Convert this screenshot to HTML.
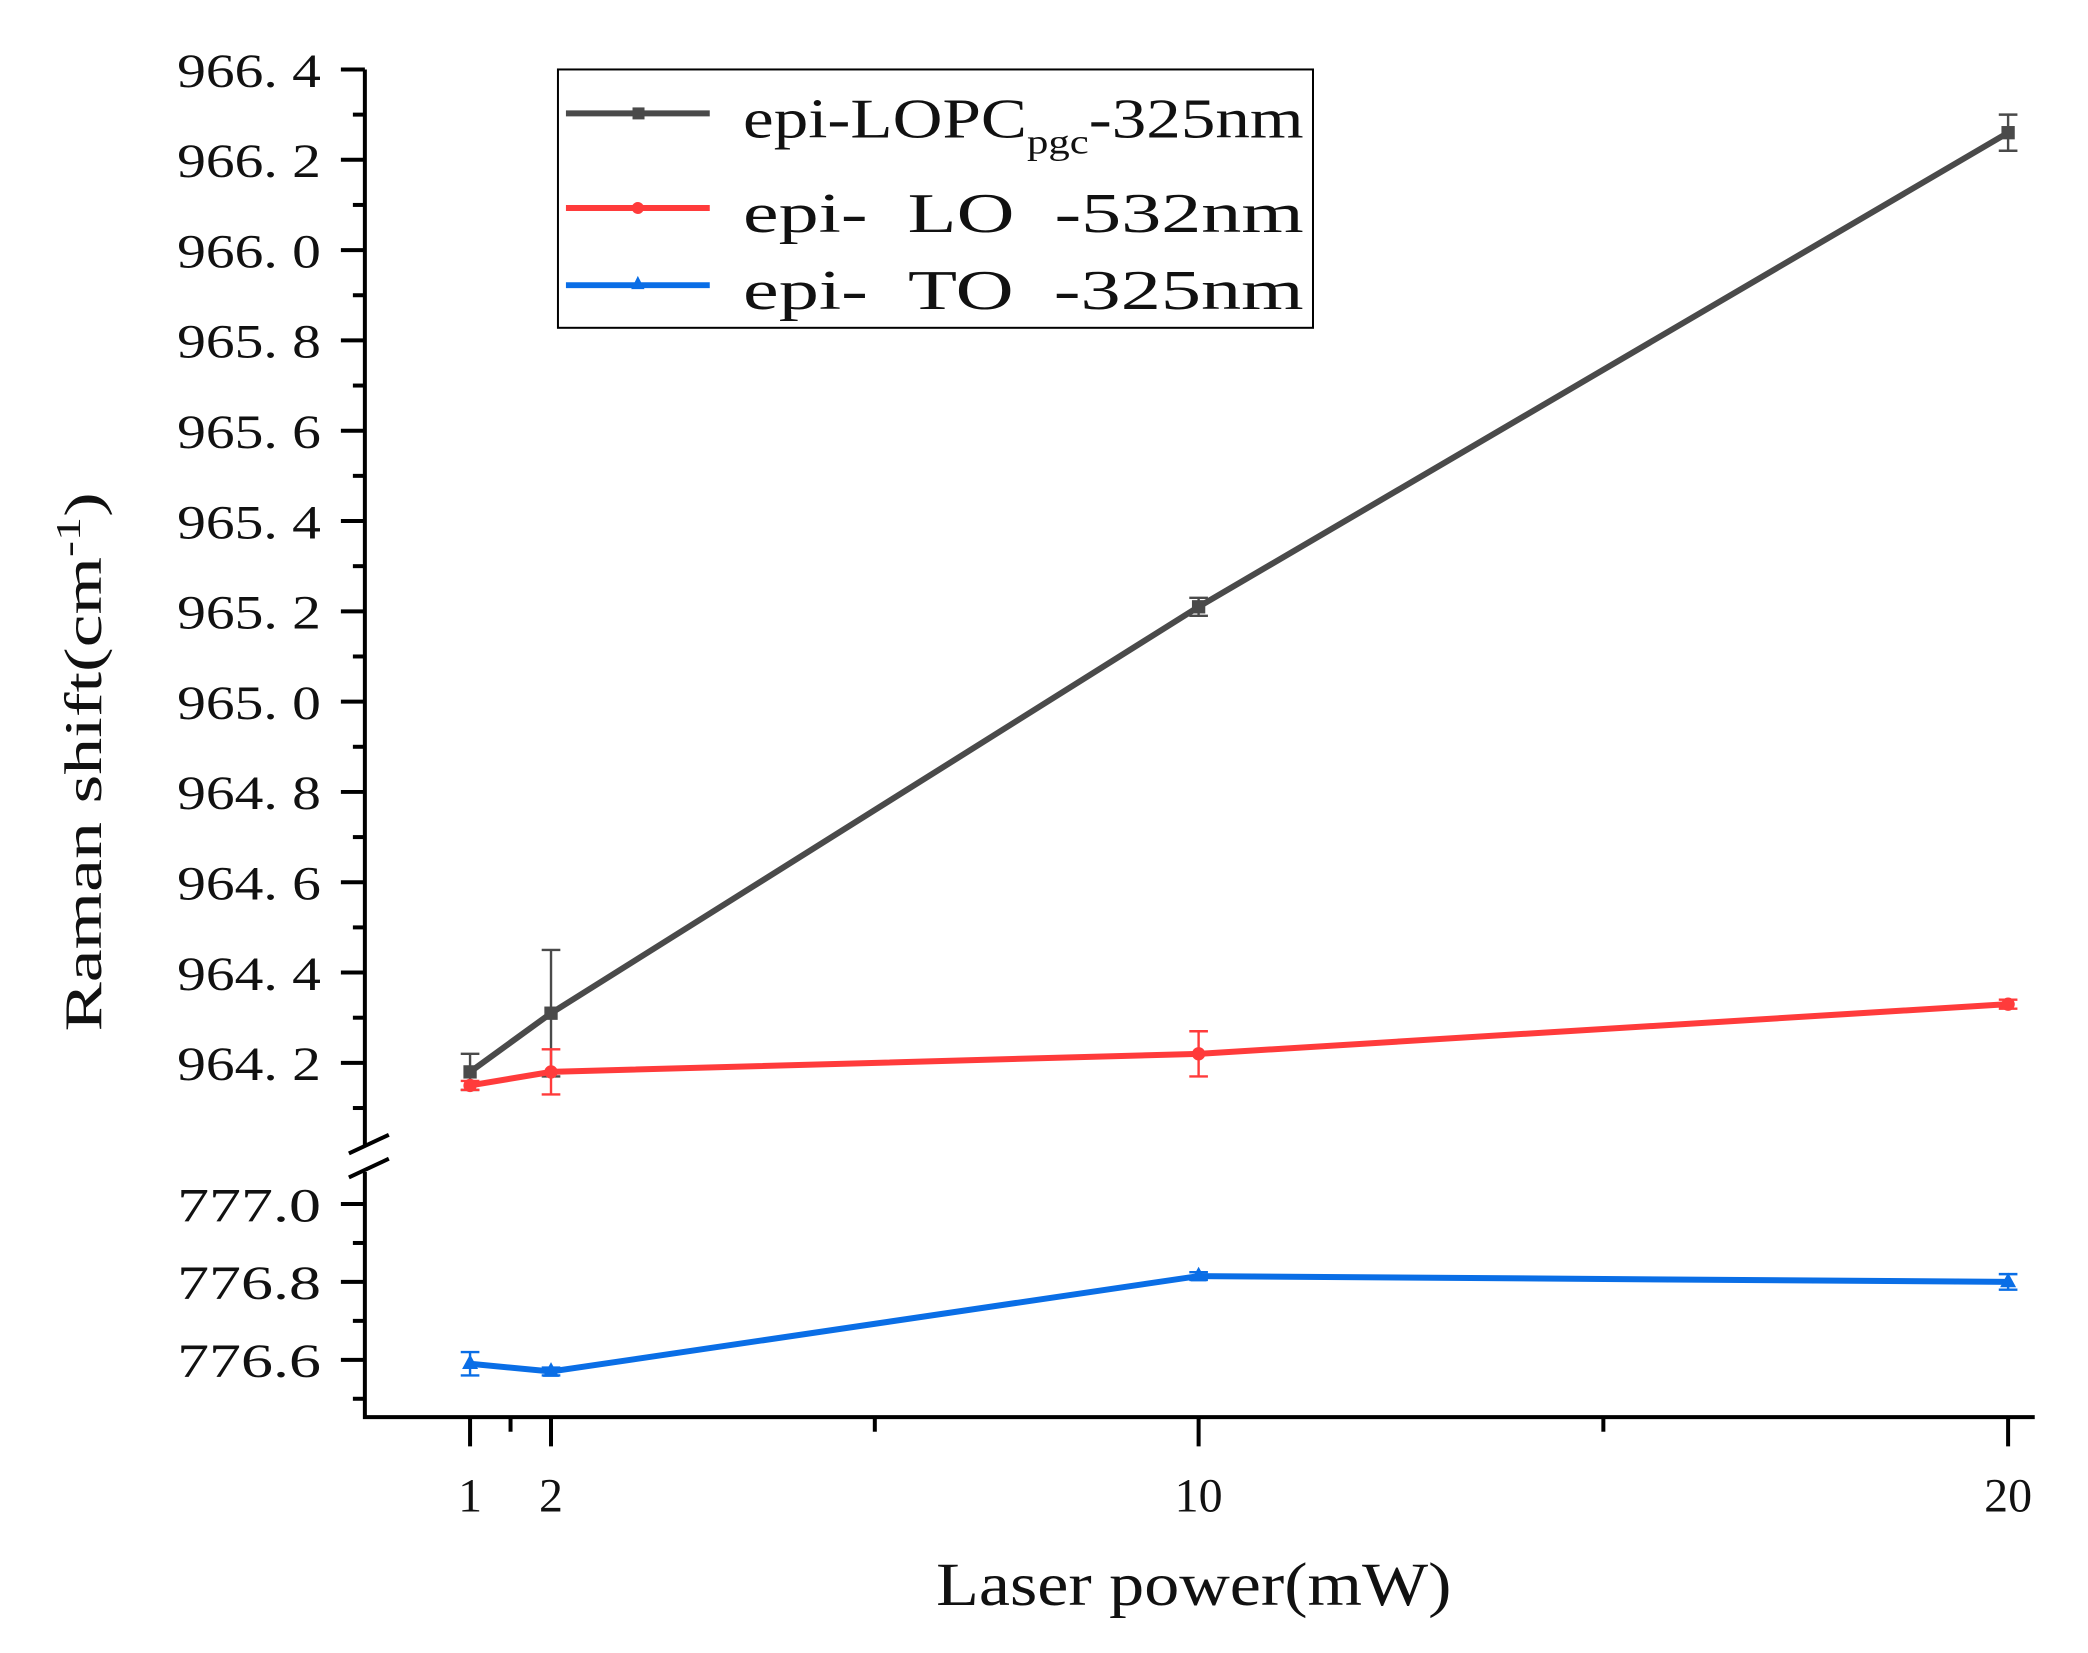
<!DOCTYPE html>
<html><head><meta charset="utf-8"><style>
html,body{margin:0;padding:0;background:#fff;}
svg{display:block;}
text{font-family:"Liberation Serif","Noto Serif CJK SC",serif;fill:#111;}
</style></head><body>
<svg id="chart" width="2088" height="1653" viewBox="0 0 1568 1241" xmlns="http://www.w3.org/2000/svg">
<g id="axes"></g>
<g id="series"></g>
<g id="legend">
<rect x="419" y="52" width="567" height="194" fill="#fff" stroke="#000" stroke-width="1.5"/>
</g>
<text transform="translate(76,572) rotate(-90)" text-anchor="middle" font-size="40" textLength="405" lengthAdjust="spacingAndGlyphs">Raman shift(cm<tspan font-size="26" dy="-16">-1</tspan><tspan dy="16">)</tspan></text>
<text x="703" y="1205" font-size="46" textLength="387" lengthAdjust="spacingAndGlyphs">Laser power(mW)</text>
</svg>
<script>
const xValues = [1, 2, 10, 20];
const lopcValues = [964.18, 964.31, 965.21, 966.26];
const lopcErrors = [0.04, 0.14, 0.02, 0.04];
const loValues = [964.15, 964.18, 964.22, 964.33];
const loErrors = [0.01, 0.05, 0.05, 0.01];
const toValues = [776.59, 776.57, 776.815, 776.80];
const toErrors = [0.03, 0.01, 0.01, 0.02];
const upperTicks = ["964.2","964.4","964.6","964.8","965.0","965.2","965.4","965.6","965.8","966.0","966.2","966.4"];
const lowerTicks = ["776.6","776.8","777.0"];
const xTicks = ["1","2","10","20"];

const NS = "http://www.w3.org/2000/svg";
function X(v){ return 353 + (v - 1) * (1508 - 353) / 19; }
function YU(v){ return 798 - (v - 964.2) * (798 - 52) / 2.2; }
function YL(v){ return 1021 - (v - 776.6) * (1021 - 904) / 0.4; }
function mk(parent, tag, attrs){
  const e = document.createElementNS(NS, tag);
  for (const k in attrs) e.setAttribute(k, attrs[k]);
  parent.appendChild(e); return e;
}
const axes = document.getElementById('axes');
const series = document.getElementById('series');

let yAxis = mk(axes, 'path', {d:'M274 52 V860 M274 880 V1064 H1528', stroke:'#000', 'stroke-width':3, fill:'none'});


let brk = mk(axes, 'path', {d:'M262 866 L292 852 M262 884 L292 870', stroke:'#000', 'stroke-width':3});



upperTicks.forEach(t => {
  const v = parseFloat(t), y = YU(v);
  mk(axes, 'line', {x1:256, x2:274, y1:y, y2:y, stroke:'#000', 'stroke-width':3});
  const m = YU(v - 0.1);
  mk(axes, 'line', {x1:265, x2:274, y1:m, y2:m, stroke:'#000', 'stroke-width':3});
  const lbl = mk(axes, 'text', {x:241, y:y + 13, 'text-anchor':'end', 'font-size':36, textLength:108, lengthAdjust:'spacingAndGlyphs'});
  lbl.textContent = t.replace('.', '. ');
  
  
});
lowerTicks.forEach(t => {
  const v = parseFloat(t), y = YL(v);
  mk(axes, 'line', {x1:256, x2:274, y1:y, y2:y, stroke:'#000', 'stroke-width':3});
  const m = YL(v + 0.1);
  if (m > 880) mk(axes, 'line', {x1:265, x2:274, y1:m, y2:m, stroke:'#000', 'stroke-width':3});
  const lbl = mk(axes, 'text', {x:241, y:y + 13, 'text-anchor':'end', 'font-size':36, textLength:108, lengthAdjust:'spacingAndGlyphs'});
  lbl.textContent = t;
  
  
});
mk(axes, 'line', {x1:265, x2:274, y1:YL(776.5), y2:YL(776.5), stroke:'#000', 'stroke-width':3});

xTicks.forEach(t => {
  const x = X(parseFloat(t));
  mk(axes, 'line', {x1:x, x2:x, y1:1064, y2:1086, stroke:'#000', 'stroke-width':3});
  const lbl = mk(axes, 'text', {x:x, y:1135, 'text-anchor':'middle', 'font-size':36});
  lbl.textContent = t;
  
  
});
[1.5, 6, 15].forEach(v => {
  const x = X(v);
  mk(axes, 'line', {x1:x, x2:x, y1:1064, y2:1075, stroke:'#000', 'stroke-width':3});
});

function drawSeries(name, vals, errs, Y, color, marker){
  const g = mk(series, 'g', {});
  
  
  vals.forEach((v, i) => {
    const x = X(xValues[i]);
    const y1 = Y(v + errs[i]), y2 = Y(v - errs[i]);
    mk(g, 'path', {d:`M${x} ${y1} V${y2} M${x-7} ${y1} H${x+7} M${x-7} ${y2} H${x+7}`, stroke:color, 'stroke-width':1.8, fill:'none'});
  });
  const pts = vals.map((v, i) => X(xValues[i]) + ',' + Y(v)).join(' ');
  mk(g, 'polyline', {points:pts, fill:'none', stroke:color, 'stroke-width':4.5});
  vals.forEach((v, i) => {
    const x = X(xValues[i]), y = Y(v);
    let m;
    if (marker === 'square') m = mk(g, 'rect', {x:x-5, y:y-5, width:10, height:10, fill:color});
    else if (marker === 'circle') m = mk(g, 'circle', {cx:x, cy:y, r:5, fill:color});
    else m = mk(g, 'path', {d:`M${x} ${y-7} L${x+6} ${y+4} L${x-6} ${y+4} Z`, fill:color});
    
    
  });
}
drawSeries('lopc-series', lopcValues, lopcErrors, YU, '#4a4a4a', 'square');
drawSeries('lo-series', loValues, loErrors, YU, '#ff3b3b', 'circle');
drawSeries('to-series', toValues, toErrors, YL, '#0a6ee6', 'triangle');

const legend = document.getElementById('legend');
const entries = [
  {y:85, color:'#4a4a4a', marker:'square'},
  {y:156, color:'#ff3b3b', marker:'circle'},
  {y:214, color:'#0a6ee6', marker:'triangle'}
];
entries.forEach((e, i) => {
  const g = mk(legend, 'g', {});
  
  
  mk(g, 'line', {x1:425, x2:533, y1:e.y, y2:e.y, stroke:e.color, 'stroke-width':4.5});
  if (e.marker === 'square') mk(g, 'rect', {x:475, y:e.y-4.5, width:9, height:9, fill:e.color});
  else if (e.marker === 'circle') mk(g, 'circle', {cx:479, cy:e.y, r:4.5, fill:e.color});
  else mk(g, 'path', {d:`M479 ${e.y-7} L484 ${e.y+3} L474 ${e.y+3} Z`, fill:e.color});
});
function legText(y, html, len){
  const t = mk(legend, 'text', {x:558, y:y, 'font-size':42, textLength:len, lengthAdjust:'spacingAndGlyphs'});
  t.innerHTML = html;
  
  
}
legText(103, 'epi-LOPC<tspan font-size="26" dy="12">pgc</tspan><tspan dy="-12">-325nm</tspan>', 421);
legText(174, 'epi-\u00a0\u00a0LO\u00a0\u00a0-532nm', 421);
legText(232, 'epi-\u00a0\u00a0TO\u00a0\u00a0-325nm', 421);
</script>
</body></html>
